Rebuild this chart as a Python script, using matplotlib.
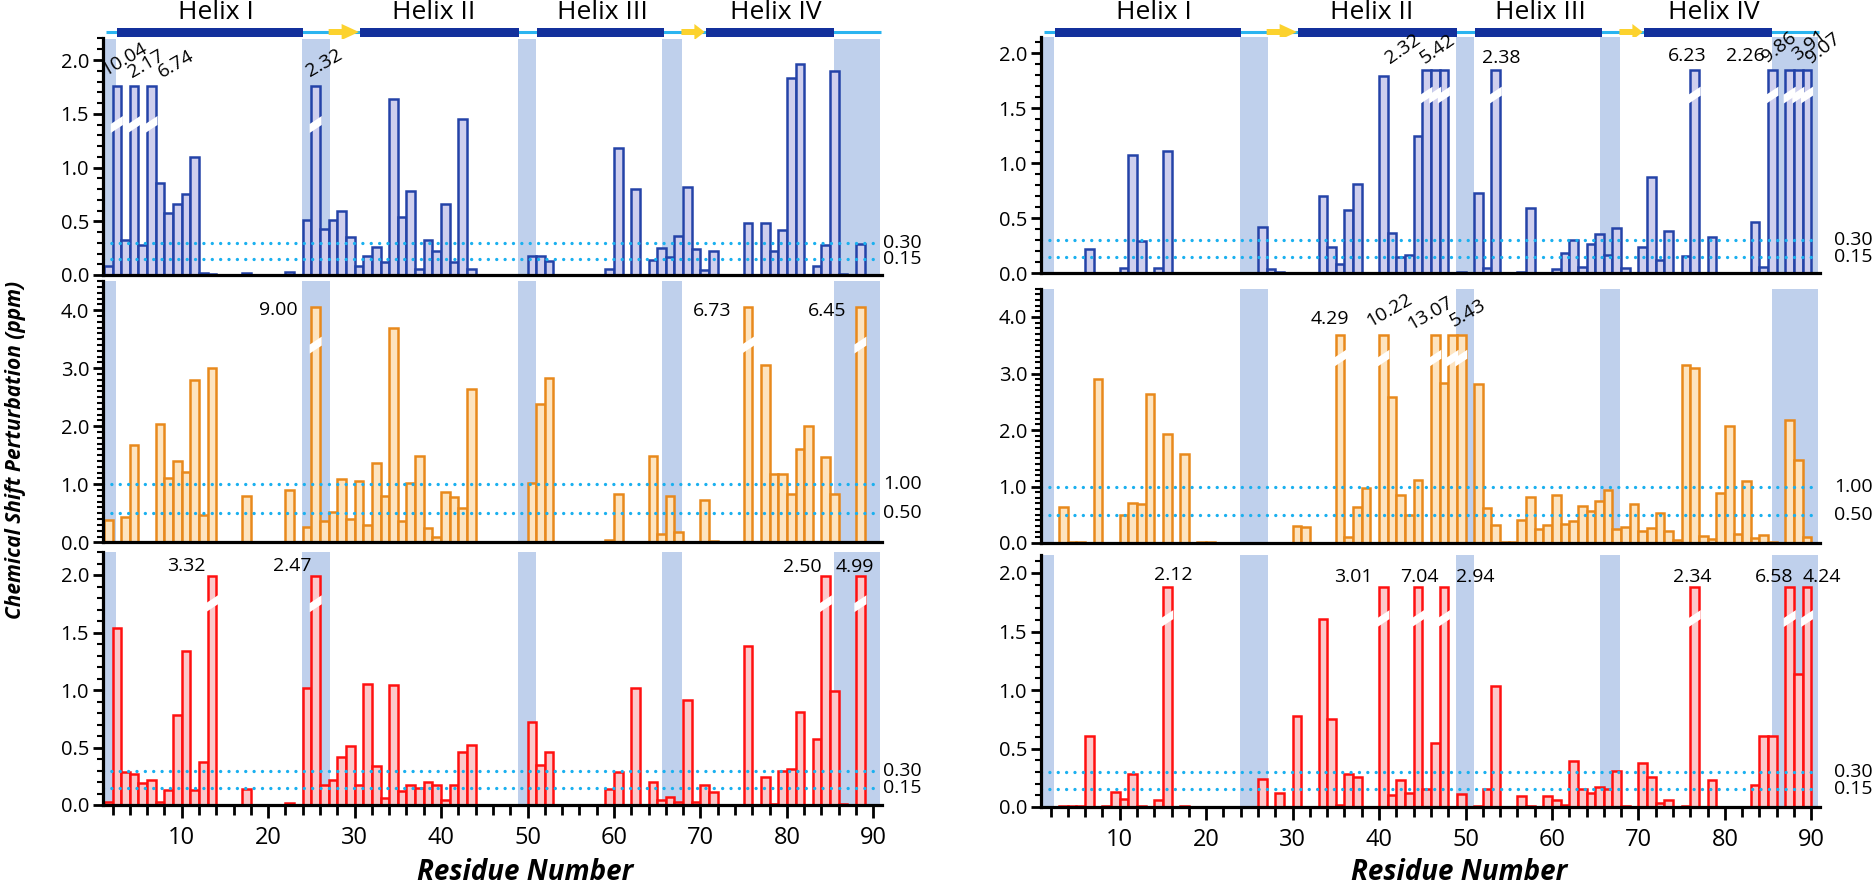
import numpy as np
import matplotlib
matplotlib.use("Agg")
from matplotlib import pyplot as plt
from matplotlib.patches import Polygon, Rectangle
from matplotlib.ticker import MultipleLocator, FormatStrFormatter

plt.rcParams['font.family'] = ['Open Sans', 'DejaVu Sans']

########################################################################################################################
# data: residue numbers and chemical shift perturbations (ppm)

# left column
lt_res = [1, 2, 3, 4, 5, 6, 7, 8, 9, 10, 11, 12, 13, 17, 22,
          24, 25, 26, 27, 28, 29, 30, 31, 32, 33, 34, 35, 36, 37, 38, 39, 40, 41, 42, 43,
          50, 51, 52, 59, 60, 62, 64, 65, 66, 67, 68, 69, 70, 71,
          75, 77, 78, 79, 80, 81, 83, 84, 85, 86, 88]
lt_val = [0.08, 10.04, 0.33, 2.17, 0.28, 6.74, 0.86, 0.58, 0.66, 0.75, 1.10, 0.02, 0.01, 0.02, 0.03,
          0.51, 2.32, 0.43, 0.51, 0.60, 0.35, 0.08, 0.18, 0.26, 0.12, 1.64, 0.54, 0.78, 0.06, 0.33, 0.22, 0.66, 0.12, 1.45, 0.06,
          0.18, 0.18, 0.13, 0.06, 1.18, 0.80, 0.14, 0.25, 0.17, 0.36, 0.82, 0.24, 0.05, 0.22,
          0.48, 0.48, 0.22, 0.42, 1.83, 1.96, 0.08, 0.28, 1.90, 0.01, 0.29]

lm_res = [1, 2, 3, 4, 7, 8, 9, 10, 11, 12, 13, 14, 15, 16, 17, 22,
          24, 25, 26, 27, 28, 29, 30, 31, 32, 33, 34, 35, 36, 37, 38, 39, 40, 41, 42, 43,
          50, 51, 52, 59, 60, 64, 65, 66, 67, 70, 71,
          75, 77, 78, 79, 80, 81, 82, 84, 85, 88]
lm_val = [0.39, 0.01, 0.44, 1.67, 2.04, 1.10, 1.41, 1.21, 2.80, 0.47, 3.01, 0.01, 0.01, 0.01, 0.80, 0.90,
          0.26, 9.00, 0.36, 0.53, 1.09, 0.41, 1.06, 0.30, 1.36, 0.80, 3.69, 0.36, 1.02, 1.48, 0.24, 0.09, 0.86, 0.78, 0.59, 2.64,
          1.03, 2.38, 2.84, 0.04, 0.83, 1.48, 0.14, 0.80, 0.18, 0.73, 0.02,
          6.73, 3.06, 1.18, 1.18, 0.84, 1.60, 2.01, 1.47, 0.83, 6.45]

lb_res = [1, 2, 3, 4, 5, 6, 7, 8, 9, 10, 11, 12, 13, 17, 22,
          24, 25, 26, 27, 28, 29, 30, 31, 32, 33, 34, 35, 36, 37, 38, 39, 40, 41, 42, 43,
          50, 51, 52, 59, 60, 62, 64, 65, 66, 67, 68, 69, 70, 71,
          75, 77, 78, 79, 80, 81, 83, 84, 85, 86, 88]
lb_val = [0.03, 1.54, 0.29, 0.27, 0.19, 0.22, 0.03, 0.13, 0.78, 1.34, 0.13, 0.37, 3.32, 0.14, 0.02,
          1.02, 2.47, 0.17, 0.22, 0.42, 0.51, 0.17, 1.05, 0.34, 0.06, 1.04, 0.12, 0.17, 0.15, 0.20, 0.17, 0.04, 0.17, 0.46, 0.52,
          0.72, 0.35, 0.46, 0.14, 0.29, 1.02, 0.20, 0.04, 0.07, 0.03, 0.91, 0.03, 0.17, 0.11,
          1.38, 0.24, 0.01, 0.30, 0.31, 0.81, 0.57, 2.50, 0.99, 0.01, 4.99]

# right column
rt_res = [6, 10, 11, 12, 14, 15, 26, 27, 28, 33, 34, 35, 36, 37,
          40, 41, 42, 43, 44, 45, 46, 47, 49, 51, 52, 53, 56, 57,
          60, 61, 62, 63, 64, 65, 66, 67, 68, 70, 71, 72, 73, 75, 76, 78,
          83, 84, 85, 87, 88, 89]
rt_val = [0.22, 0.05, 1.08, 0.29, 0.05, 1.11, 0.42, 0.04, 0.01, 0.70, 0.24, 0.08, 0.58, 0.81,
          1.79, 0.37, 0.15, 0.17, 1.25, 2.32, 3.00, 5.42, 0.01, 0.73, 0.05, 2.38, 0.01, 0.59,
          0.04, 0.18, 0.30, 0.06, 0.27, 0.36, 0.17, 0.41, 0.05, 0.24, 0.88, 0.12, 0.38, 0.16, 6.23, 0.33,
          0.47, 0.06, 2.26, 9.86, 3.91, 9.07]

rm_res = [3, 4, 5, 7, 10, 11, 12, 13, 15, 17, 19, 20, 30, 31, 35, 36, 37, 38,
          40, 41, 42, 43, 44, 46, 47, 48, 49,
          51, 52, 53, 54, 55, 56, 57, 58, 59, 60, 61, 62, 63, 64, 65, 66, 67, 68, 69, 70,
          71, 72, 73, 74, 75, 76, 77, 78, 79, 80, 81, 82, 83, 84, 85, 87, 88, 89]
rm_val = [0.64, 0.01, 0.01, 2.91, 0.49, 0.70, 0.69, 2.64, 1.93, 1.58, 0.01, 0.01, 0.30, 0.29, 4.29, 0.10, 0.64, 0.97,
          10.22, 2.58, 0.85, 0.49, 1.12, 13.07, 2.84, 4.00, 5.43,
          2.81, 0.62, 0.31, 0.01, 0.01, 0.40, 0.82, 0.25, 0.31, 0.85, 0.34, 0.39, 0.66, 0.56, 0.74, 0.93, 0.24, 0.28, 0.69, 0.22,
          0.26, 0.53, 0.21, 0.05, 3.15, 3.10, 0.12, 0.07, 0.88, 2.07, 0.16, 1.10, 0.09, 0.15, 0.02, 2.18, 1.47, 0.10]

rb_res = [3, 4, 5, 6, 8, 9, 10, 11, 12, 14, 15, 17, 26, 28, 30, 33, 34, 35, 36, 37,
          40, 41, 42, 43, 44, 45, 46, 47, 49, 51, 52, 53, 56, 57,
          59, 60, 61, 62, 63, 64, 65, 66, 67, 68, 70, 71, 72, 73, 75, 76, 78,
          83, 84, 85, 87, 88, 89]
rb_val = [0.01, 0.01, 0.01, 0.61, 0.01, 0.13, 0.07, 0.28, 0.01, 0.06, 2.12, 0.01, 0.24, 0.12, 0.78, 1.61, 0.75, 0.02, 0.28, 0.26,
          3.01, 0.10, 0.23, 0.12, 7.04, 0.15, 0.55, 2.94, 0.11, 0.01, 0.15, 1.03, 0.09, 0.01,
          0.09, 0.06, 0.02, 0.39, 0.15, 0.12, 0.17, 0.15, 0.31, 0.01, 0.38, 0.26, 0.03, 0.06, 0.01, 2.34, 0.23,
          0.19, 0.61, 0.61, 6.58, 1.14, 4.24]

# secondary structure (residue ranges)
helix_spans = [(2.5, 24.0), (30.6, 49.0), (51.1, 65.8), (70.6, 85.4)]
strand_spans = [(27.0, 30.5), (67.8, 70.5)]
helix_names = ["Helix I", "Helix II", "Helix III", "Helix IV"]
helix_name_pos = [14.0, 39.2, 58.7, 78.7]
shaded_spans = [(0.9, 2.35), (23.9, 27.2), (48.9, 51.0), (65.6, 67.9), (85.5, 90.8)]

thresholds_small = [0.30, 0.15]
thresholds_large = [1.00, 0.50]

########################################################################################################################
W, H = 1874, 884
fig = plt.figure(figsize=(W / 100, H / 100), dpi=100)

blue = ('#cfcfee', '#2443a8')
orange = ('#fde4c0', '#e8891c')
red = ('#fbc9cb', '#ff1010')
shade_col = '#bfd0ec'
dot_col = '#1ab0ef'
XLIM = (0.9, 91.0)


def px_axes(x0, x1, ytop, ybot):
    return fig.add_axes([x0 / W, 1 - ybot / H, (x1 - x0) / W, (ybot - ytop) / H])


def draw_panel(x0, x1, ybot, ppu, ymax, res, val, colors, cap, brk, slash, thr, major, labels, bottom, line_end, thr_x):
    ax = px_axes(x0, x1, ybot - ymax * ppu, ybot)
    ax.set_xlim(*XLIM)
    ax.set_ylim(0, ymax)
    for a, b in shaded_spans:
        ax.axvspan(a, b, color=shade_col, lw=0, zorder=0)
    res = np.array(res)
    val = np.array(val)
    shown = np.where(val > brk, cap, val)
    ax.bar(res, shown, width=1.0, align='edge', facecolor=colors[0], edgecolor=colors[1],
           linewidth=1.8, zorder=2)
    for t in thr:
        ax.plot([XLIM[0], line_end], [t, t], color=dot_col, lw=2.4, ls=(0, (0.01, 2.5)),
                dash_capstyle='round', zorder=3)
        ax.text(thr_x, t, f"{t:.2f}", fontsize=14, va='center', ha='left', clip_on=False)
    # broken bars: white slash plus the true value
    th = 9.0 / ppu
    rise = 8.0 / ppu
    for r, v in zip(res, val):
        if v > brk:
            y0 = slash - th / 2 - rise / 2
            poly = Polygon([(r - 0.2, y0), (r + 1.2, y0 + rise), (r + 1.2, y0 + rise + th), (r - 0.2, y0 + th)],
                           closed=True, facecolor='white', edgecolor='none', zorder=4)
            ax.add_patch(poly)
            if r in labels:
                dx, dy, rot, ha, va = labels[r]
                ax.annotate(f"{v:.2f}", xy=(r + 0.5, cap), xytext=(dx * 0.72, dy * 0.72),
                            textcoords='offset points', rotation=rot, ha=ha, va=va,
                            rotation_mode='anchor', fontsize=14, zorder=5, annotation_clip=False)
    for s in ['top', 'right']:
        ax.spines[s].set_visible(False)
    for s in ['left', 'bottom']:
        ax.spines[s].set_linewidth(2.3)
        ax.spines[s].set_zorder(6)
    ax.yaxis.set_major_locator(MultipleLocator(major))
    ax.yaxis.set_minor_locator(MultipleLocator(0.1))
    ax.yaxis.set_major_formatter(FormatStrFormatter('%.1f'))
    ax.tick_params(axis='y', which='major', direction='out', length=7, width=2, labelsize=14.5, pad=3)
    ax.tick_params(axis='y', which='minor', direction='out', length=4, width=1.5)
    if bottom:
        ax.xaxis.set_major_locator(MultipleLocator(10))
        ax.xaxis.set_minor_locator(MultipleLocator(2))
        ax.tick_params(axis='x', which='major', direction='out', length=9, width=2, labelsize=17, pad=6)
        ax.tick_params(axis='x', which='minor', direction='out', length=7, width=2)
        ax.set_xticks([10, 20, 30, 40, 50, 60, 70, 80, 90])
    else:
        ax.tick_params(axis='x', which='both', bottom=False, labelbottom=False)
    return ax


def draw_helix(x0, x1):
    hax = px_axes(x0, x1, 0, 46)
    hax.set_xlim(*XLIM)
    hax.set_ylim(46, 0)
    hax.axis('off')
    hax.plot([1.3, 90.9], [32, 32], color='#2ab4f0', lw=2.2, solid_capstyle='butt', zorder=1)
    for a, b in helix_spans:
        hax.add_patch(Rectangle((a, 27.5), b - a, 9, facecolor='#13309c', edgecolor='none', zorder=2))
    for a, b in strand_spans:
        hax.add_patch(Polygon([(a, 29), (a + 1.5, 29), (a + 1.5, 24), (b, 32), (a + 1.5, 40),
                               (a + 1.5, 35), (a, 35)], closed=True, facecolor='#fcd22e', edgecolor='none', zorder=2))
    for name, x in zip(helix_names, helix_name_pos):
        hax.text(x, 12.5, name, ha='center', va='center', fontsize=19)


# label placement for broken bars: residue -> (dx px, dy px, rotation, ha, va)
lt_lab = {2: (-10, 6, 30, 'left', 'bottom'), 4: (0, 4, 30, 'left', 'bottom'),
          6: (12, 4, 30, 'left', 'bottom'), 25: (-4, 5, 30, 'left', 'bottom')}
lm_lab = {25: (-18, -3, 0, 'right', 'center'), 75: (-17, -4, 0, 'right', 'center'),
          88: (-14, -4, 0, 'right', 'center')}
lb_lab = {13: (-6, 10, 0, 'right', 'center'), 25: (-4, 10, 0, 'right', 'center'),
          84: (-4, 9, 0, 'right', 'center'), 88: (-6, 9, 0, 'center', 'center')}
rt_lab = {45: (-34, 3, 35, 'left', 'bottom'), 47: (-17, 3, 35, 'left', 'bottom'),
          53: (5, 12, 0, 'center', 'center'), 76: (-7, 14, 0, 'center', 'center'),
          85: (-8, 14, 0, 'right', 'center'), 87: (-20, 4, 38, 'left', 'bottom'),
          88: (1, 6, 38, 'left', 'bottom'), 89: (6, 3, 38, 'left', 'bottom')}
rm_lab = {35: (-10, 16, 0, 'center', 'center'), 40: (-11, 5, 30, 'left', 'bottom'),
          46: (-22, 2, 30, 'left', 'bottom'), 49: (-5, 5, 30, 'left', 'bottom')}
rb_lab = {15: (6, 12, 0, 'center', 'center'), 40: (-11, 10, 0, 'right', 'center'),
          44: (1, 10, 0, 'center', 'center'), 47: (12, 10, 0, 'left', 'center'),
          76: (-2, 10, 0, 'center', 'center'), 87: (-16, 10, 0, 'center', 'center'),
          89: (15, 10, 0, 'center', 'center')}

# left column
LX0, LX1 = 103, 882
draw_helix(LX0, LX1)
draw_panel(LX0, LX1, 275.0, 107.5, 2.2, lt_res, lt_val, blue, 1.76, 2.0, 1.40, thresholds_small, 0.5, lt_lab, False, 90.0, 91.1)
draw_panel(LX0, LX1, 542.3, 58.0, 4.5, lm_res, lm_val, orange, 4.06, 4.0, 3.40, thresholds_large, 1.0, lm_lab, False, 90.0, 91.1)
draw_panel(LX0, LX1, 805.0, 115.0, 2.2, lb_res, lb_val, red, 1.99, 2.0, 1.75, thresholds_small, 0.5, lb_lab, True, 90.0, 91.1)

# right column
RX0, RX1 = 1041, 1820
draw_helix(RX0, RX1)
draw_panel(RX0, RX1, 273.3, 110.0, 2.15, rt_res, rt_val, blue, 1.85, 2.0, 1.62, thresholds_small, 0.5, rt_lab, False, 90.9, 92.6)
draw_panel(RX0, RX1, 543.0, 56.5, 4.5, rm_res, rm_val, orange, 3.68, 3.9, 3.27, thresholds_large, 1.0, rm_lab, False, 90.9, 92.6)
draw_panel(RX0, RX1, 807.0, 117.0, 2.15, rb_res, rb_val, red, 1.88, 2.0, 1.61, thresholds_small, 0.5, rb_lab, True, 90.9, 92.6)

fig.text(16 / W, 1 - 450 / H, "Chemical Shift Perturbation (ppm)", rotation=90, ha='center', va='center',
         fontsize=15, fontweight='bold', style='italic')
fig.text(525 / W, 1 - 873 / H, "Residue Number", ha='center', va='center', fontsize=20, fontweight='bold', style='italic')
fig.text(1459 / W, 1 - 873 / H, "Residue Number", ha='center', va='center', fontsize=20, fontweight='bold', style='italic')

plt.savefig("out.png", dpi=100)
plt.close()
